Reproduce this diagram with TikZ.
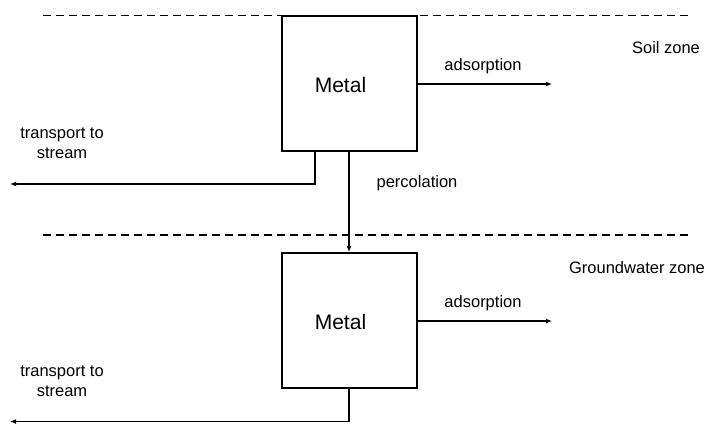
\documentclass[tikz,border=0pt]{standalone}
\usepackage{fontspec}
\setmainfont{Liberation Sans}
\usetikzlibrary{arrows.meta}

\tikzset{
  metalbox/.style={draw, line width=2pt, fill=white, minimum width=135pt, minimum height=135pt, inner sep=0pt},
  flow/.style={line width=1.6pt, -{Latex[length=6pt,width=5pt]}},
  zoneline/.style={line width=1.4pt, dash pattern=on 8pt off 5pt},
  lbl/.style={font=\fontsize{16.5}{20}\selectfont, inner sep=0pt}
}

\begin{document}
\begin{tikzpicture}[x=1pt,y=-1pt]
\useasboundingbox (0,0) rectangle (708,423);

% Zone boundaries
\coordinate (z1a) at (43,15.5);
\coordinate (z1b) at (688,15.5);
\coordinate (z2a) at (43,235);
\coordinate (z2b) at (688,235);
\draw[zoneline] (z1a) -- (z1b);
\draw[zoneline] (z2a) -- (z2b);

% Boxes
\node[metalbox] (m1) at (349,83.5) {};
\node[metalbox] (m2) at (349,320.5) {};
\node[font=\fontsize{21}{24}\selectfont] (t1) at ([xshift=-8.5pt,yshift=-1pt]m1.center) {Metal};
\node[font=\fontsize{21}{24}\selectfont] (t2) at ([xshift=-8.5pt,yshift=-1.5pt]m2.center) {Metal};

% Free ends
\coordinate (a1) at (552,84);
\coordinate (a2) at (552,321);
\coordinate (o1) at (10,184);
\coordinate (o2) at (10,421.5);

% Adsorption
\draw[flow] (m1.east |- a1) -- (a1);
\draw[flow] (m2.east |- a2) -- (a2);
\node[lbl] (ad1) at (483,66) {adsorption};
\node[lbl] (ad2) at (483,303) {adsorption};

% Transport to stream
\draw[flow] ([xshift=-34pt]m1.south) |- (o1);
\draw[flow] (m2.south) |- (o2);
\node[lbl, align=center] (tr1) at (62,143) {transport to\\stream};
\node[lbl, align=center] (tr2) at (62,381) {transport to\\stream};

% Percolation
\draw[flow] (m1.south) -- (m2.north);
\node[lbl] (pc) at (417,183) {percolation};

% Zones
\node[lbl] (soil) at (666,48) {Soil zone};
\node[lbl] (gw) at (637,268) {Groundwater zone};

\end{tikzpicture}
\end{document}
